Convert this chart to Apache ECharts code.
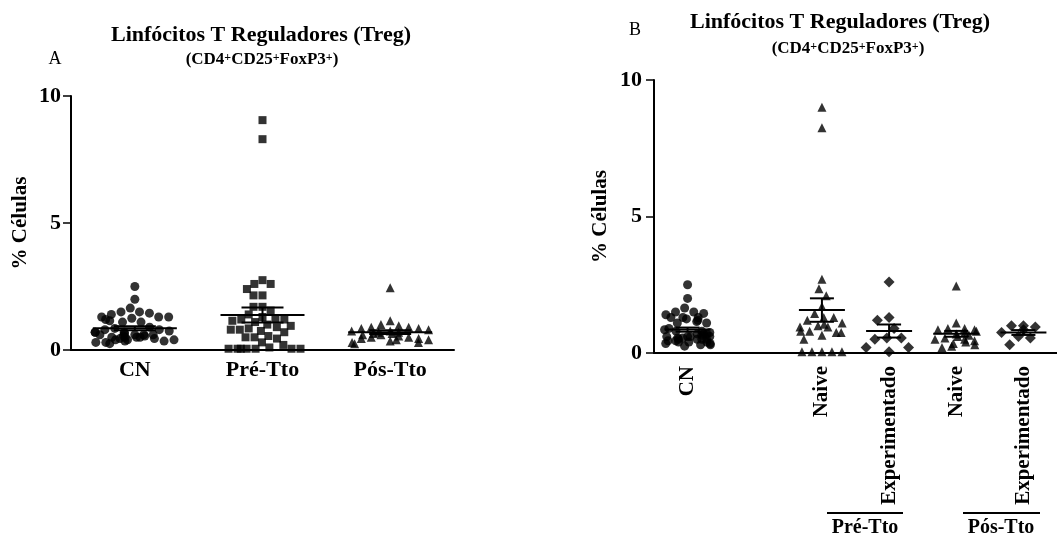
<!DOCTYPE html>
<html>
<head>
<meta charset="UTF-8">
<title>Treg</title>
<script src="https://cdn.jsdelivr.net/npm/echarts@6/dist/echarts.min.js"></script>
<style>
  html, body { margin: 0; padding: 0; background: #fff; }
  #main { width: 1057px; height: 534px; }
</style>
</head>
<body>
<div id="main"></div>
<script>
// panel A groups
var catsA = ['CN', 'Pré-Tto', 'Pós-Tto'];
var cnVals = [2.5, 2.0, 1.65, 1.5, 1.5, 1.45, 1.4, 1.3, 1.3, 1.3, 1.25, 1.2, 1.15, 1.1, 1.1, 0.6, 0.55, 0.5, 0.45, 0.4, 0.9, 0.35, 0.85, 0.3, 0.8, 0.8, 0.75, 0.7, 0.7, 0.7, 0.65, 0.6, 0.6, 0.6, 0.55, 0.5, 0.5, 0.5, 0.45, 0.4, 0.4, 0.35, 0.3, 0.25];
var preVals = [9.05, 8.3, 2.75, 2.6, 2.6, 2.4, 2.15, 2.15, 1.7, 1.7, 1.55, 1.4, 1.3, 1.25, 1.2, 1.2, 1.15, 1.1, 1.0, 0.95, 0.9, 0.85, 0.8, 0.8, 0.75, 0.7, 0.55, 0.5, 0.5, 0.45, 0.3, 0.2, 0.1, 0.05, 0.05, 0.05, 0.05, 0.05, 0.05, 0.05];
var posVals = [2.45, 1.15, 1.0, 0.95, 0.9, 0.9, 0.85, 0.85, 0.8, 0.75, 0.75, 0.7, 0.7, 0.65, 0.65, 0.6, 0.6, 0.55, 0.5, 0.5, 0.45, 0.45, 0.4, 0.4, 0.35, 0.3, 0.3, 0.25];

// panel B groups
var catsB = ['CN', '', 'Naive', 'Experimentado', 'Naive', 'Experimentado'];
var preNaive = [9.0, 8.25, 2.7, 2.35, 2.1, 1.7, 1.45, 1.3, 1.3, 1.2, 1.1, 1.05, 1.0, 0.95, 0.95, 0.8, 0.8, 0.75, 0.75, 0.65, 0.5, 0.05, 0.05, 0.05, 0.05, 0.05];
var preExp = [2.6, 1.3, 1.2, 0.9, 0.55, 0.55, 0.5, 0.2, 0.2, 0.05];
var posNaive = [2.45, 1.1, 0.9, 0.9, 0.85, 0.85, 0.8, 0.75, 0.7, 0.65, 0.6, 0.55, 0.5, 0.5, 0.45, 0.4, 0.35, 0.3, 0.25, 0.2];
var posExp = [1.0, 1.0, 0.95, 0.85, 0.75, 0.6, 0.55, 0.3];

function pts(idx, vals) {
  return vals.map(function (v) { return [idx, v]; });
}
// mean and standard error of the mean
function meanSem(idx, vals) {
  var n = vals.length, m = 0, s = 0;
  vals.forEach(function (v) { m += v; });
  m = m / n;
  vals.forEach(function (v) { s += (v - m) * (v - m); });
  return [idx, m, Math.sqrt(s / (n - 1)) / Math.sqrt(n)];
}
function barRender(half, cap) {
  return function (params, api) {
    var x = api.value(0), m = api.value(1), s = api.value(2);
    var pm = api.coord([x, m]), pt = api.coord([x, m + s]), pb = api.coord([x, m - s]);
    var st = { stroke: '#000', lineWidth: 2 };
    return {
      type: 'group',
      children: [
        { type: 'line', shape: { x1: pm[0] - half, y1: pm[1], x2: pm[0] + half, y2: pm[1] }, style: st },
        { type: 'line', shape: { x1: pt[0], y1: pt[1], x2: pb[0], y2: pb[1] }, style: st },
        { type: 'line', shape: { x1: pt[0] - cap, y1: pt[1], x2: pt[0] + cap, y2: pt[1] }, style: st },
        { type: 'line', shape: { x1: pb[0] - cap, y1: pb[1], x2: pb[0] + cap, y2: pb[1] }, style: st }
      ]
    };
  };
}

var ff = '"Liberation Serif", "Times New Roman", serif';

function yAx(gi, gap, margin) {
  return {
    gridIndex: gi, type: 'value', min: 0, max: 10, interval: 5,
    name: '% Células', nameLocation: 'middle', nameGap: gap, nameRotate: 90,
    nameTextStyle: { fontFamily: ff, fontWeight: 'bold', fontSize: 21, color: '#000' },
    axisLine: { show: true, lineStyle: { color: '#000', width: 2 } },
    axisTick: { show: true, length: 8, lineStyle: { color: '#000', width: 1.5 } },
    axisLabel: { fontFamily: ff, fontWeight: 'bold', fontSize: 22, color: '#000', margin: margin },
    splitLine: { show: false }
  };
}
function sub(x, y) {
  return {
    type: 'text', x: x, y: y,
    style: {
      text: '(CD4{s|+}CD25{s|+}FoxP3{s|+})', font: 'bold 17px ' + ff, fill: '#000', textAlign: 'center', textVerticalAlign: 'middle',
      rich: { s: { font: 'bold 12px ' + ff, verticalAlign: 'top', fill: '#000' } }
    }
  };
}
function txt(x, y, t, font) {
  return { type: 'text', x: x, y: y, style: { text: t, font: font + ' ' + ff, fill: '#000', textAlign: 'center', textVerticalAlign: 'middle' } };
}

var chart = echarts.init(document.getElementById('main'));
chart.setOption({
  animation: false,
  backgroundColor: '#fff',
  grid: [
    { left: 71, top: 96, width: 383, height: 254 },
    { left: 654, top: 80, width: 411, height: 273 }
  ],
  xAxis: [
    {
      gridIndex: 0, type: 'category', data: catsA,
      jitter: 80, jitterOverlap: false, jitterMargin: 1,
      axisLine: { lineStyle: { color: '#000', width: 2 } },
      axisTick: { alignWithLabel: true, length: 6, lineStyle: { color: '#000', width: 1.5 } },
      axisLabel: { fontFamily: ff, fontWeight: 'bold', fontSize: 22, color: '#000', margin: 9 }
    },
    {
      gridIndex: 1, type: 'category', data: catsB,
      jitter: 46, jitterOverlap: false, jitterMargin: 1,
      axisLine: { lineStyle: { color: '#000', width: 2 } },
      axisTick: { alignWithLabel: true, length: 6, lineStyle: { color: '#000', width: 1.5 } },
      axisLabel: { interval: 0, rotate: 90, fontFamily: ff, fontWeight: 'bold', fontSize: 21, color: '#000', margin: 13 }
    }
  ],
  yAxis: [yAx(0, 40, 10), yAx(1, 43, 12)],
  series: [
    { type: 'scatter', xAxisIndex: 0, yAxisIndex: 0, symbol: 'circle', symbolSize: 9, itemStyle: { color: '#000' }, data: pts(0, cnVals) },
    { type: 'scatter', xAxisIndex: 0, yAxisIndex: 0, symbol: 'rect', symbolSize: 8, itemStyle: { color: '#000' }, data: pts(1, preVals) },
    { type: 'scatter', xAxisIndex: 0, yAxisIndex: 0, symbol: 'triangle', symbolSize: 9, itemStyle: { color: '#000' }, data: pts(2, posVals) },
    {
      type: 'custom', xAxisIndex: 0, yAxisIndex: 0, z: 5,
      renderItem: barRender(42, 21),
      data: [meanSem(0, cnVals), meanSem(1, preVals), meanSem(2, posVals)]
    },
    { type: 'scatter', xAxisIndex: 1, yAxisIndex: 1, symbol: 'circle', symbolSize: 9, itemStyle: { color: '#000' }, data: pts(0, cnVals) },
    { type: 'scatter', xAxisIndex: 1, yAxisIndex: 1, symbol: 'triangle', symbolSize: 9, itemStyle: { color: '#000' }, data: pts(2, preNaive) },
    { type: 'scatter', xAxisIndex: 1, yAxisIndex: 1, symbol: 'diamond', symbolSize: 11, itemStyle: { color: '#000' }, data: pts(3, preExp) },
    { type: 'scatter', xAxisIndex: 1, yAxisIndex: 1, symbol: 'triangle', symbolSize: 9, itemStyle: { color: '#000' }, data: pts(4, posNaive) },
    { type: 'scatter', xAxisIndex: 1, yAxisIndex: 1, symbol: 'diamond', symbolSize: 11, itemStyle: { color: '#000' }, data: pts(5, posExp) },
    {
      type: 'custom', xAxisIndex: 1, yAxisIndex: 1, z: 5,
      renderItem: barRender(23, 12),
      data: [meanSem(0, cnVals), meanSem(2, preNaive), meanSem(3, preExp), meanSem(4, posNaive), meanSem(5, posExp)]
    }
  ],
  graphic: [
    txt(55, 59, 'A', '18px'),
    txt(261, 35, 'Linfócitos T Reguladores (Treg)', 'bold 22px'),
    sub(262, 60),
    txt(635, 30, 'B', '18px'),
    txt(840, 22, 'Linfócitos T Reguladores (Treg)', 'bold 22px'),
    sub(848, 49),
    { type: 'line', shape: { x1: 827, y1: 513, x2: 903, y2: 513 }, style: { stroke: '#000', lineWidth: 2 } },
    { type: 'line', shape: { x1: 963, y1: 513, x2: 1040, y2: 513 }, style: { stroke: '#000', lineWidth: 2 } },
    txt(865, 528, 'Pré-Tto', 'bold 20px'),
    txt(1001, 528, 'Pós-Tto', 'bold 20px')
  ]
});
</script>
</body>
</html>
